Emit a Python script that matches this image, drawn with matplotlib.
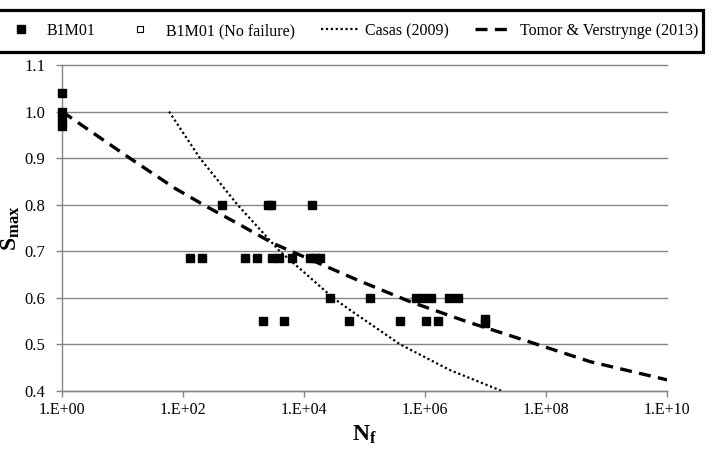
import matplotlib.pyplot as plt
import matplotlib.patches as mpatches
from matplotlib.lines import Line2D
import numpy as np

plt.rcParams['font.family'] = ['Liberation Serif', 'DejaVu Serif']
plt.rcParams['mathtext.fontset'] = 'custom'
plt.rcParams['mathtext.rm'] = 'Liberation Serif'
plt.rcParams['mathtext.bf'] = 'Liberation Serif:bold'

# B1M01 results: log10(N_f) and S_max
b1m01_logN = [0, 0, 0, 0,
              2.64, 3.40, 3.46, 4.13,
              2.12, 2.31, 3.02, 3.23, 3.47, 3.58, 3.80, 4.10, 4.18, 4.26,
              4.43, 5.09, 5.85, 5.97, 6.10, 6.40, 6.55,
              3.33, 3.67, 4.74, 5.59, 6.02, 6.22, 6.99, 6.99]
b1m01_S = [1.04, 1.00, 0.985, 0.97,
           0.80, 0.80, 0.80, 0.80,
           0.685, 0.685, 0.685, 0.685, 0.685, 0.685, 0.685, 0.685, 0.685, 0.685,
           0.60, 0.60, 0.60, 0.60, 0.60, 0.60, 0.60,
           0.55, 0.55, 0.55, 0.55, 0.55, 0.55, 0.555, 0.545]

# run-outs (none visible in the chart)
nofail_logN = []
nofail_S = []

# Casas (2009) curve
casas_logN = [1.77, 2.28, 2.90, 3.60, 4.00, 4.48, 4.76, 5.59, 6.41, 7.27]
casas_S = [1.0, 0.9, 0.8, 0.70, 0.655, 0.6, 0.574, 0.5, 0.445, 0.4]

# Tomor & Verstrynge (2013) curve
tomor_logN = [0, 1.12, 1.87, 2.39, 2.94, 3.49, 4.87, 5.75, 6.69, 7.62, 8.73, 10]
tomor_S = [1.0, 0.9, 0.835, 0.796, 0.757, 0.717, 0.639, 0.592, 0.549, 0.51, 0.463, 0.424]

xtick_exp = [0, 2, 4, 6, 8, 10]
yticks = [0.4, 0.5, 0.6, 0.7, 0.8, 0.9, 1.0, 1.1]

W, H = 717, 466
fig = plt.figure(figsize=(W / 100, H / 100), dpi=100)
ax = fig.add_axes([62 / W, 75 / H, 605 / W, 326 / H])

grey = '#868686'

ax.plot(10.0 ** np.array(casas_logN), casas_S, color='black', lw=1.6,
        linestyle=(0, (1, 1.2)))
ax.plot(10.0 ** np.array(tomor_logN), tomor_S, color='black', lw=2.4,
        linestyle=(0, (3.6, 2.2)))
ax.plot(10.0 ** np.array(b1m01_logN), b1m01_S, 's', color='black', ms=6.2,
        clip_on=False, zorder=5)
ax.plot(10.0 ** np.array(nofail_logN, dtype=float), nofail_S, 's', mfc='white',
        mec='black', ms=5, mew=0.8, clip_on=False, zorder=5)

ax.set_xscale('log')
ax.set_xlim(1, 1e10)
ax.set_ylim(0.4, 1.1)
ax.set_xticks([10.0 ** e for e in xtick_exp])
ax.set_xticklabels(['1.E+%02d' % e for e in xtick_exp], fontsize=11.5)
ax.minorticks_off()
ax.set_yticks(yticks)
ax.set_yticklabels(['%.1f' % v for v in yticks], fontsize=12)

ax.yaxis.grid(True, color=grey, lw=1)
for gl in ax.yaxis.get_gridlines():
    gl.set_clip_on(False)
ax.set_axisbelow(True)
for s in ['top', 'right']:
    ax.spines[s].set_visible(False)
for s in ['left', 'bottom']:
    ax.spines[s].set_color(grey)
    ax.spines[s].set_linewidth(1)
ax.tick_params(axis='both', color=grey, length=4, width=1)
ax.tick_params(axis='y', pad=8)
ax.tick_params(axis='x', pad=4)

ax.set_ylabel(r'$\mathbf{S_{max}}$', fontsize=17)
ax.yaxis.set_label_coords(-0.066, 0.5)
ax.set_xlabel(r'$\mathbf{N_f}$', fontsize=17)

# legend strip across the top
handles = [
    Line2D([], [], marker='s', ls='none', color='black', ms=6),
    Line2D([], [], marker='s', ls='none', mfc='white', mec='black', ms=5, mew=0.8),
    Line2D([], [], color='black', lw=1.6, linestyle=(0, (1, 1.2))),
    Line2D([], [], color='black', lw=2.4, linestyle=(0, (3.6, 2.2))),
]
labels = ['B1M01', 'B1M01 (No failure)', 'Casas (2009)', 'Tomor & Verstrynge (2013)']
fig.legend(handles, labels, loc='center', mode='expand',
           bbox_to_anchor=(2 / W, 1 - 52 / H, 696 / W, 42 / H),
           ncol=4, frameon=False, fontsize=11.5, handlelength=2.4,
           handletextpad=0.4, borderaxespad=0, borderpad=0)
fig.patches.append(mpatches.Rectangle((-0.01, 1 - 52 / H), (703 + 7) / W, 42 / H,
                                      transform=fig.transFigure, fill=False,
                                      lw=2.3, ec='black'))

fig.savefig('out.png', dpi=100)
